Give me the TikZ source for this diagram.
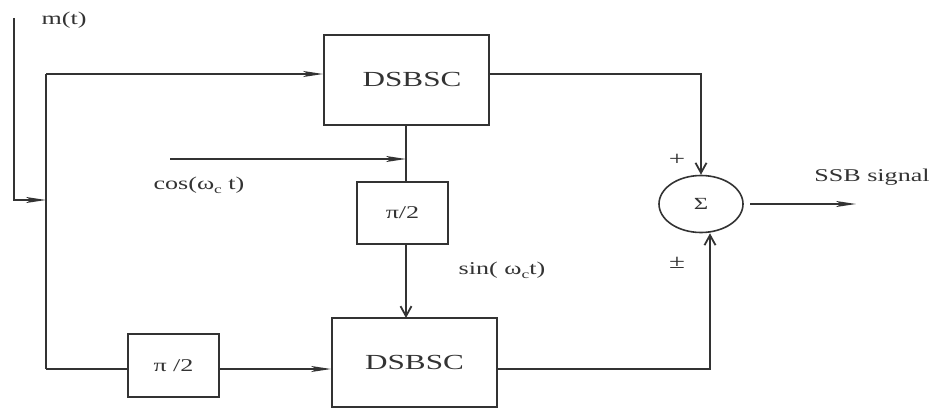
\documentclass[tikz,border=0pt]{standalone}
\usepackage{fontspec}
\setmainfont{Liberation Serif}[FakeStretch=1.45]
\usetikzlibrary{arrows.meta,shapes.geometric}
\definecolor{ln}{HTML}{333333}
\tikzset{
  blk/.style={draw=ln, line width=1.8pt, rectangle, inner sep=0pt},
  wire/.style={draw=ln, line width=1.8pt},
  harr/.style={wire, -{Stealth[length=20pt,width=6pt,inset=5pt]}},
  varr/.style={wire, -{Straight Barb[length=10pt,width=11pt]}},
  lbl/.style={text=ln, font=\fontsize{18}{20}\selectfont, inner sep=0pt},
}
\begin{document}
\begin{tikzpicture}[x=1pt,y=-1pt]
\useasboundingbox (0,0) rectangle (947,409);
% blocks
\node[blk, minimum width=165pt, minimum height=90pt] (dsb1) at (406.5,80) {};
\node[lbl, font=\fontsize{21.5}{23}\selectfont] (t1) at (412,79) {DSBSC};
\node[blk, minimum width=165pt, minimum height=89pt] (dsb2) at (414.5,362.5) {};
\node[lbl, font=\fontsize{21.5}{23}\selectfont] (t2) at (414.5,362) {DSBSC};
\node[blk, minimum width=91pt, minimum height=62pt, lbl] (ph1) at (402.5,213) {π/2};
\node[blk, minimum width=91pt, minimum height=63pt, lbl] (ph2) at (173.5,365.5) {π /2};
\node[draw=ln, line width=1.6pt, ellipse, minimum width=84pt, minimum height=57pt, inner sep=0pt, lbl, font=\fontsize{17}{19}\selectfont] (sum) at (701,204) {Σ};
% coordinates
\coordinate (min) at (14,18);
\coordinate (mbend) at (14,200);
\coordinate (sp) at (46,200);
\coordinate (sptop) at (46,74);
\coordinate (spbot) at (46,369);
\coordinate (cosin) at (170,159);
\coordinate (vx1) at (406,125);
\coordinate (vx2) at (406,159);
\coordinate (vx3) at (406,244);
\coordinate (vx4) at (406,318);
\coordinate (rtop) at (701,74);
\coordinate (rbot) at (710,369);
\coordinate (sout) at (750,204);
\coordinate (send) at (856,204);
% connectors
\draw[harr] (min) -- (mbend) -- (sp);
\draw[wire] (sptop) -- (spbot);
\draw[harr] (sptop) -- (sptop -| dsb1.west);
\draw[wire] (spbot) -- (spbot -| ph2.west);
\draw[harr] (spbot -| ph2.east) -- (spbot -| dsb2.west);
\draw[wire] (vx1) -- (vx3 |- ph1.north);
\draw[harr] (cosin) -- (vx2);
\draw[varr] (vx3) -- (vx4);
\draw[varr] (rtop -| dsb1.east) -- (rtop) -- (sum.north);
\draw[varr] (rbot -| dsb2.east) -- (rbot) -- (rbot |- sum.south);
\draw[harr] (sout) -- (send);
% labels
\node[lbl] (lm) at (64,20) {m(t)};
\node[lbl] (lcos) at (199,185) {cos(ω\raisebox{-4pt}{\fontsize{12}{12}\selectfont c} t)};
\node[lbl] (lsin) at (502,270) {sin( ω\raisebox{-4pt}{\fontsize{12}{12}\selectfont c}t)};
\node[lbl, font=\fontsize{20}{22}\selectfont] (lp) at (677,160) {+};
\node[lbl, font=\fontsize{20}{22}\selectfont] (lpm) at (677,263) {±};
\node[lbl] (lssb) at (872,177) {SSB signal};
\end{tikzpicture}
\end{document}
